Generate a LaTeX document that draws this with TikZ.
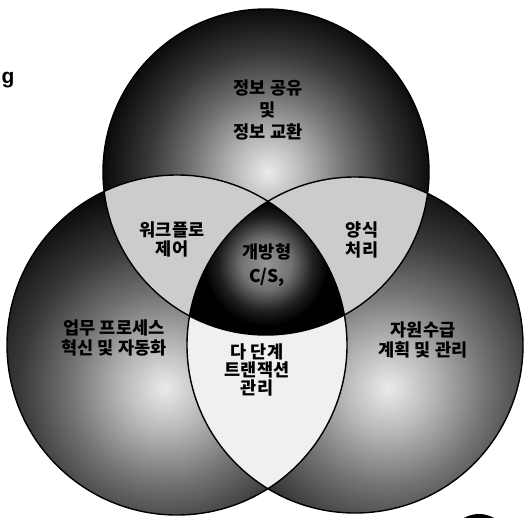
\documentclass[tikz,border=0pt]{standalone}
\usepackage{fontspec}
\setmainfont{Noto Sans CJK KR}
\newfontfamily\latinsans{Liberation Sans}
\pgfdeclareradialshading{darkball}{\pgfpoint{0bp}{0bp}}{color(0bp)=(black!8); color(5bp)=(black!28); color(11bp)=(black!55); color(17bp)=(black!78); color(22bp)=(black!92); color(25bp)=(black); color(50bp)=(black)}
\pgfdeclareradialshading{glow}{\pgfpoint{0bp}{0bp}}{color(0bp)=(black!42); color(10bp)=(black!55); color(19bp)=(black!88); color(25bp)=(black); color(50bp)=(black)}
\tikzset{
  lbl/.style={font=\fontsize{17.5}{#1}\selectfont\bfseries, align=center, inner sep=0pt, text=black},
  lbl/.default=20,
  outline/.style={draw=black, line width=1.4pt}
}
\begin{document}
\begin{tikzpicture}[x=1pt,y=-1pt]
\useasboundingbox (0,0) rectangle (524,517);
\def\RT{163pt}
\def\RL{170pt}
\def\RR{168pt}
\coordinate (T) at (266,172);
\coordinate (L) at (177,345);
\coordinate (R) at (355,345);
\begin{scope}
\clip (0,0) rectangle (524,517);
% single circles
\begin{scope}
  \clip (T) circle[radius=\RT];
  \shade[shading=darkball] (268,172) circle[radius=176pt];
\end{scope}
\begin{scope}
  \clip (L) circle[radius=\RL];
  \shade[shading=darkball] (165,388) circle[radius=216pt];
\end{scope}
\begin{scope}
  \clip (R) circle[radius=\RR];
  \shade[shading=darkball] (388,388) circle[radius=222pt];
\end{scope}
% pairwise lenses
\begin{scope}
  \clip (T) circle[radius=\RT];
  \fill[black!20] (L) circle[radius=\RL];
\end{scope}
\begin{scope}
  \clip (T) circle[radius=\RT];
  \fill[black!20] (R) circle[radius=\RR];
\end{scope}
\begin{scope}
  \clip (L) circle[radius=\RL];
  \fill[black!6] (R) circle[radius=\RR];
\end{scope}
% triple region
\begin{scope}
  \clip (T) circle[radius=\RT];
  \clip (L) circle[radius=\RL];
  \clip (R) circle[radius=\RR];
  \fill[black] (0,0) rectangle (524,517);
  \shade[shading=glow] (266,264) circle[radius=62pt];
\end{scope}
% outlines
\draw[outline] (T) circle[radius=\RT];
\draw[outline] (L) circle[radius=\RL];
\draw[outline] (R) circle[radius=\RR];
% cut-off blob bottom right
\fill[black] (479,539) ellipse[x radius=28pt, y radius=25pt];
\end{scope}
% labels
\node[lbl=22] (top) at (268,110) {정보 공유\\및\\정보 교환};
\node[lbl=19] (wf) at (172,239) {워크플로\\제어};
\node[lbl=20] (form) at (362,240) {양식\\처리};
\node[lbl=24] (mid) at (267,265) {개방형\\C/S,};
\node[lbl=20] (bpr) at (114,338) {업무 프로세스\\혁신 및 자동화};
\node[lbl=18] (multi) at (257,370) {다 단계\\트랜잭션\\관리};
\node[lbl=20] (res) at (423,340) {자원수급\\계획 및 관리};
\node[font=\latinsans\fontsize{21}{22}\selectfont\bfseries, inner sep=0pt] (g) at (8,80) {g};
\end{tikzpicture}
\end{document}
